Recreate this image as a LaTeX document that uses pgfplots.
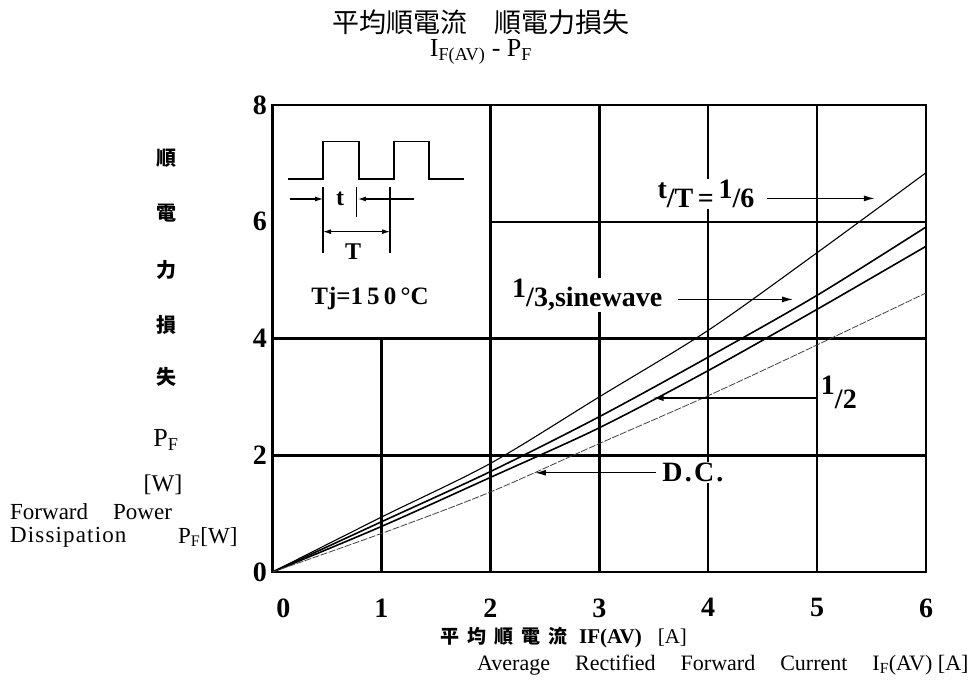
\documentclass[border=0pt]{standalone}
\usepackage{fontspec}
\setmainfont{Liberation Serif}
\newfontfamily\cjk{Noto Sans CJK TC}
\usepackage{pgfplots}
\pgfplotsset{compat=1.18}
\usetikzlibrary{arrows.meta}
\newcommand{\fs}[1]{\fontsize{#1}{#1}\selectfont}
\begin{document}
\begin{tikzpicture}[x=1pt,y=1pt]
\begin{axis}[scale only axis,
  width=653.5pt, height=467pt,
  xmin=0, xmax=6, ymin=0, ymax=8,
  xtick={0,...,6}, ytick={0,2,4,6,8},
  xticklabels={{\hspace{22pt}0},1,2,3,4,5,6},
  major tick length=0pt,
  axis line style={line width=2.8pt},
  /pgf/number format/assume math mode=true,
  ticklabel style={font=\bfseries\fs{28}},
  xticklabel style={yshift=-23pt},
  yticklabel style={xshift=-2pt},
  clip=false]
\coordinate (O) at (axis cs:0,0);
% partial grid
\draw[line width=2.5pt] (axis cs:1,0) -- (axis cs:1,4);
\draw[line width=2.5pt] (axis cs:2,0) -- (axis cs:2,8);
\draw[line width=2.5pt] (axis cs:3,0) -- (axis cs:3,8);
\draw[line width=2.5pt] (axis cs:4,0) -- (axis cs:4,8);
\draw[line width=2.5pt] (axis cs:5,0) -- (axis cs:5,8);
\draw[line width=2.5pt] (axis cs:0,2) -- (axis cs:6,2);
\draw[line width=2.5pt] (axis cs:0,4) -- (axis cs:6,4);
\draw[line width=2.5pt] (axis cs:2,6) -- (axis cs:6,6);
% curves
\addplot[smooth, tension=0.5, line width=1.1pt, black] coordinates {(0,0)(1,0.94)(2,1.86)(3,3.00)(4,4.14)(5,5.47)(6,6.84)};
\addplot[smooth, tension=0.5, line width=1.6pt, black] coordinates {(0,0)(1,0.86)(2,1.72)(3,2.66)(4,3.68)(5,4.74)(6,5.91)};
\addplot[smooth, tension=0.5, line width=1.6pt, black] coordinates {(0,0)(1,0.78)(2,1.62)(3,2.47)(4,3.45)(5,4.50)(6,5.58)};
\addplot[smooth, tension=0.5, line width=0.8pt, black!75, dash pattern=on 7pt off 1.5pt] coordinates {(0,0)(1,0.66)(2,1.37)(3,2.20)(4,3.02)(5,3.89)(6,4.78)};
% annotations
\node[fill=white, inner sep=1pt, font=\bfseries\fs{28}] at (axis cs:3.98,6.47) {\raisebox{9pt}{t}/T\,=\,\raisebox{9pt}{1}/6};
\draw[line width=1.3pt, -{Latex[length=11pt,width=6pt]}] (axis cs:4.54,6.40) -- (axis cs:5.53,6.40);
\node[fill=white, inner sep=1pt, font=\bfseries\fs{28}] at (axis cs:2.89,4.74) {\raisebox{9pt}{1}/3,sinewave};
\draw[line width=1.3pt, -{Latex[length=11pt,width=6pt]}] (axis cs:3.72,4.67) -- (axis cs:4.78,4.67);
\node[inner sep=0pt, font=\bfseries\fs{28}] at (axis cs:5.20,3.08) {\raisebox{8pt}{1}\raisebox{-6pt}{/2}};
\draw[line width=1.3pt, -{Latex[length=11pt,width=6pt]}] (axis cs:5.0,2.98) -- (axis cs:3.49,2.98);
\node[fill=white, inner sep=1pt, font=\bfseries\fs{28}] at (axis cs:3.86,1.70) {\addfontfeature{LetterSpace=8}D.C.};
\draw[line width=1.3pt, -{Latex[length=11pt,width=6pt]}] (axis cs:3.52,1.70) -- (axis cs:2.41,1.70);
% inset waveform
\node[font=\bfseries\fs{25}] at (axis cs:0.895,4.69) {Tj=1\,5\,0\,°C};
\draw[line width=1.4pt] (axis cs:0.142,6.73) -- (axis cs:0.464,6.73) -- (axis cs:0.464,7.37) -- (axis cs:0.794,7.37) -- (axis cs:0.794,6.73) -- (axis cs:1.116,6.73) -- (axis cs:1.116,7.37) -- (axis cs:1.437,7.37) -- (axis cs:1.437,6.73) -- (axis cs:1.759,6.73);
\draw[line width=1.1pt] (axis cs:0.464,6.59) -- (axis cs:0.464,5.46);
\draw[line width=1.1pt] (axis cs:0.773,6.59) -- (axis cs:0.773,6.08);
\draw[line width=1.1pt] (axis cs:1.079,6.59) -- (axis cs:1.079,5.46);
\draw[line width=1.1pt, -{Latex[length=8pt,width=5pt]}] (axis cs:0.16,6.39) -- (axis cs:0.464,6.39);
\draw[line width=1.1pt, -{Latex[length=8pt,width=5pt]}] (axis cs:1.30,6.39) -- (axis cs:0.785,6.39);
\draw[line width=1.1pt, {Latex[length=8pt,width=5pt]}-{Latex[length=8pt,width=5pt]}] (axis cs:0.464,5.83) -- (axis cs:1.079,5.83);
\node[font=\bfseries\fs{24}] at (axis cs:0.62,6.39) {t};
\node[font=\bfseries\fs{24}] at (axis cs:0.74,5.48) {T};
\end{axis}
\begin{scope}[shift={(O)}, xshift=-272.5pt, yshift=-125pt]
\node[font=\cjk\fs{27}] at (481,675) {平均順電流\hspace{1em}順電力損失};
\node[font=\fs{26}] at (481,645) {I\textsubscript{F(AV)} - P\textsubscript{F}};
\foreach \c/\yy in {順/539,電/484,力/427,損/372,失/320}{
  \node[font=\cjk\bfseries\fs{20}] at (167,\yy) {\c};
}
\node[font=\fs{26}] at (166,257) {P\textsubscript{F}};
\node[font=\fs{24}] at (163,212) {[W]};
\node[font=\fs{23}, anchor=west, inner sep=0pt] at (10,185) {Forward};
\node[font=\fs{23}, anchor=west, inner sep=0pt] at (113,185) {Power};
\node[font=\fs{23}, anchor=west, inner sep=0pt] at (10,160) {\addfontfeature{LetterSpace=5}Dissipation};
\node[font=\fs{23}, anchor=west, inner sep=0pt] at (178,160) {P\textsubscript{F}[W]};
\node[font=\fs{21}, anchor=west, inner sep=0pt] at (440,59) {{\cjk\bfseries\fs{19}平\hspace{8pt}均\hspace{8pt}順\hspace{8pt}電\hspace{8pt}流}\hspace{12pt}\textbf{IF(AV)}\hspace{16pt}[A]};
\node[font=\fs{22}, anchor=west, inner sep=0pt] at (477,32) {Average\hspace{25pt}Rectified\hspace{25pt}Forward\hspace{25pt}Current\hspace{25pt}I\textsubscript{F}(AV) [A]};
\end{scope}
\pgfresetboundingbox
\path[use as bounding box] ([shift={(-272.5pt,-125pt)}]O) rectangle ([shift={(701.5pt,572pt)}]O);
\end{tikzpicture}
\end{document}
